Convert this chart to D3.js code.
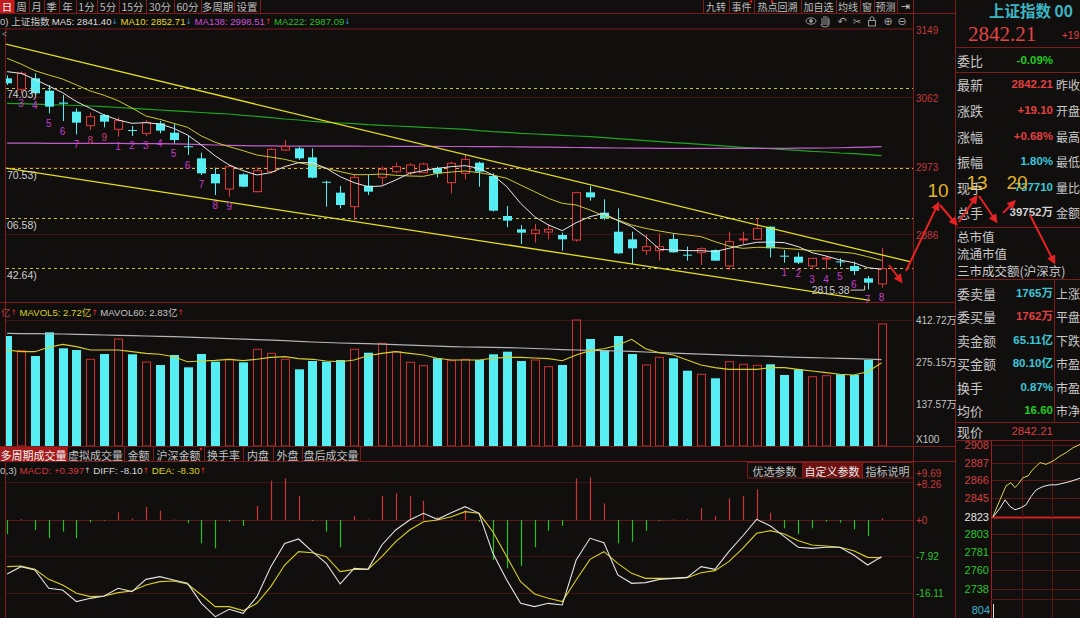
<!DOCTYPE html>
<html><head><meta charset="utf-8"><title>上证指数</title>
<script src="https://cdn.jsdelivr.net/npm/d3@7/dist/d3.min.js"></script>
<style>html,body{margin:0;padding:0;background:#110e0e;overflow:hidden}svg{display:block}</style>
</head><body><svg id="c" width="1080" height="618"></svg>
<script>
// ---------------- DATA ----------------
const opens = [3086.03,3071.93,3086.03,3070.23,3055.0,3043.32,3025.38,3039.05,3020.69,3019.83,
3015.56,3028.37,3016.41,2999.0,2983.53,2963.46,2944.24,2963.03,2940.82,2966.45,
2994.21,2996.34,2984.81,2953.5,2939.54,2921.60,2948.51,2959.19,2966.45,2965.17,
2965.17,2970.72,2952.35,2964.31,2977.98,2960.90,2909.65,2892.56,2887.44,2889.15,
2885.30,2878.90,2939.97,2913.92,2889.57,2879.75,2865.23,2865.23,2880.18,2860.1,
2862.67,2866.09,2845.59,2879.3,2879.75,2895.98,2858.8,2857.54,2845.59,2855.0,
2851.5,2845.59,2829.78,2822.6];
const highs = [3090.0,3094.57,3092.43,3077.49,3064.67,3047.59,3042.04,3040.33,3036.06,3024.96,
3032.64,3031.36,3028.37,3013.43,2990.79,2971.57,2974.99,2964.31,2972.0,2996.34,
3007.02,2998.48,2996.34,2954.92,2948.08,2962.18,2962.18,2972.85,2977.98,2977.12,
2977.98,2972.85,2979.26,2987.80,2979.26,2964.31,2922.46,2898.12,2899.40,2899.40,
2888.29,2940.82,2948.08,2931.00,2919.47,2889.57,2886.59,2887.44,2887.44,2870.36,
2869.50,2866.94,2889.57,2889.57,2906.66,2896.5,2866.09,2862.67,2855.8,2858.40,
2855.41,2851.14,2832.77,2868.5];
const lows = [3077.5,3066.5,3064.67,3041.18,3031.36,3014.28,3019.83,3023.25,3011.29,3012.15,
3012.15,3015.56,3002.75,2987.80,2962.18,2936.55,2934.42,2946.5,2940.0,2964.31,
2992.93,2981.39,2958.0,2921.60,2919.47,2904.52,2936.55,2949.36,2964.31,2962.18,
2964.8,2959.19,2938.69,2956.62,2947.23,2915.5,2895.13,2873.77,2875.48,2879.75,
2865.23,2876.76,2929.29,2904.52,2861.0,2848.15,2859.68,2852.42,2862.5,2852.42,
2846.87,2852.0,2840.46,2873.77,2878.90,2856.69,2849.86,2848.15,2841.32,2841.32,
2844.73,2834.06,2815.38,2818.0];
const closes = [3079.62,3092.43,3066.81,3049.73,3053.5,3029.23,3036.91,3030.51,3031.79,3018.98,
3029.65,3018.98,3007.02,2998.2,2964.31,2951.50,2972.85,2947.23,2967.73,2995.06,
2998.48,2983.53,2958.76,2952.6,2923.74,2959.19,2940.82,2969.44,2972.85,2974.99,
2976.27,2964.31,2977.12,2982.25,2966.45,2916.48,2903.67,2888.29,2891.71,2892.56,
2879.75,2939.54,2933.56,2906.66,2861.82,2868.22,2870.36,2870.36,2863.10,2859.3,
2867.79,2852.42,2876.76,2880.2,2893.85,2868.22,2858.0,2849.86,2855.41,2855.8,
2850.7,2839.18,2824.23,2842.21];
const ma5 = [3094.57,3092.43,3084.75,3076.20,3067.66,3056.13,3047.59,3039.05,3032.64,3028.37,
3029.23,3027.52,3021.97,3013.43,3000.61,2986.52,2974.99,2967.73,2962.18,2965.17,
2972.85,2977.98,2977.98,2970.72,2960.04,2952.35,2947.23,2948.08,2955.77,2964.31,
2967.73,2970.72,2972.85,2974.14,2970.72,2962.18,2947.23,2925.88,2908.79,2898.12,
2890.86,2901.11,2908.79,2913.06,2903.67,2895.98,2883.17,2866.94,2866.09,2865.23,
2865.23,2863.95,2868.22,2872.49,2875.91,2876.34,2875.48,2870.36,2862.67,2858.40,
2853.27,2849.86,2843.45,2841.40];
const ma10 = [3111.65,3104.39,3095.85,3090.30,3085.17,3077.49,3069.80,3064.25,3057.41,3048.02,
3037.77,3033.50,3028.37,3023.25,3012.15,3004.03,2998.48,2993.35,2987.80,2985.24,
2982.25,2977.98,2974.56,2970.72,2966.45,2962.61,2962.61,2963.46,2961.75,2960.90,
2960.47,2964.3,2966.0,2967.3,2965.17,2962.18,2957.91,2949.36,2940.82,2932.28,
2925.88,2923.74,2917.34,2909.65,2904.52,2898.12,2893.85,2890.43,2887.44,2885.30,
2883.17,2876.76,2871.21,2868.22,2869.50,2869.50,2868.22,2866.94,2865.23,2864.38,
2863.52,2861.82,2857.54,2852.71];
const ma138 = [3003.0,3002.9,3002.9,3002.8,3002.8,3002.7,3002.7,3002.6,3002.6,3002.5,
3002.4,3002.3,3002.1,3001.8,3001.2,3000.6,3000.1,2999.7,2999.5,2999.4,
2999.3,2999.3,2999.2,2999.2,2999.1,2999.1,2999.0,2999.0,2998.9,2998.9,
2998.8,2998.8,2998.7,2998.7,2998.6,2998.5,2998.4,2998.2,2998.0,2997.8,
2997.6,2997.4,2997.2,2997.0,2996.8,2996.6,2996.5,2996.4,2996.3,2996.3,
2996.3,2996.3,2996.3,2996.3,2996.3,2996.4,2996.4,2996.5,2996.6,2996.8,
2997.1,2997.5,2998.0,2998.51];
const ma222 = [3054.00,3053.57,3052.93,3052.29,3051.86,3051.22,3050.58,3049.73,3048.66,3047.59,
3046.53,3045.45,3044.39,3043.32,3042.25,3041.18,3040.33,3038.62,3037.34,3035.63,
3033.92,3032.64,3030.93,3029.65,3028.80,3027.95,3026.66,3025.81,3024.96,3024.10,
3023.25,3022.39,3021.54,3020.69,3018.98,3017.70,3016.84,3015.56,3014.71,3013.85,
3013.00,3012.15,3011.29,3010.01,3008.73,3007.45,3006.16,3004.88,3003.60,3002.75,
3001.47,3000.19,2998.90,2997.62,2996.77,2995.91,2994.63,2993.78,2992.50,2991.64,
2990.36,2989.51,2988.22,2987.09];
const volumes = [360.3,312.2,294.8,372.4,320.0,314.4,284.0,301.3,350.5,300.3,
275.1,265.3,298.1,257.7,301.3,276.2,284.0,274.1,316.7,303.6,
284.0,251.2,278.4,276.2,281.7,316.7,305.6,336.4,308.9,274.1,
263.0,287.3,279.4,284.0,281.7,300.3,308.9,278.4,281.7,259.8,
265.3,412.7,350.5,314.4,360.3,301.3,265.3,290.5,287.3,246.6,
234.8,221.8,276.2,267.6,264.3,267.6,232.6,251.2,227.0,230.3,
234.8,232.6,281.7,399.6];
const mavol5 = [314.4,309.0,309.0,323.2,333.0,325.4,314.4,314.4,314.4,309.0,
303.5,300.3,292.6,276.2,278.4,280.6,283.9,279.5,283.9,290.4,
292.6,286.1,283.9,278.4,276.2,281.7,295.9,303.5,309.0,303.5,
298.1,287.2,281.7,281.7,281.7,287.2,290.4,290.4,288.2,286.1,
279.5,298.1,312.3,318.8,329.7,349.4,318.8,305.7,298.1,281.7,
265.3,256.6,251.1,251.1,251.1,256.6,256.6,251.1,245.7,240.2,
234.8,232.6,243.5,272.0];
const mavol60 = [369.0,368.4,367.9,367.4,366.9,365.8,364.7,363.6,362.5,361.4,
360.3,359.2,358.1,356.5,354.8,353.2,351.6,350.0,348.3,346.7,
345.0,342.9,340.7,339.0,337.4,336.3,335.2,333.6,331.9,330.2,
328.6,327.0,325.4,324.3,323.7,323.2,322.1,321.0,319.4,317.7,
316.0,314.4,313.3,312.3,311.2,310.1,307.9,305.7,304.0,302.4,
300.8,299.2,297.5,295.9,294.8,293.7,292.0,290.4,289.3,288.2,
287.1,286.1,284.5,283.0];
const diffs = [-11.88,-10.27,-11.00,-15.04,-15.40,-17.97,-17.24,-16.72,-15.04,-15.77,
-13.06,-12.47,-13.20,-13.94,-18.34,-21.27,-19.66,-20.54,-16.87,-10.27,
-5.14,-4.18,-6.97,-9.54,-14.08,-10.64,-10.86,-5.50,-2.20,0.0,
1.47,0.15,1.61,2.93,1.47,-7.34,-13.20,-18.34,-19.07,-18.34,
-18.70,-8.80,-4.03,-4.99,-12.10,-13.94,-13.79,-13.06,-12.84,-12.62,
-10.27,-10.86,-6.97,-3.52,0.15,-1.32,-3.67,-6.01,-6.24,-6.01,
-6.01,-7.70,-9.90,-8.10];
const deas = [-10.27,-10.12,-10.86,-13.06,-14.30,-16.14,-16.87,-16.72,-15.99,-15.62,
-14.30,-13.57,-13.42,-14.08,-16.50,-19.07,-19.07,-19.95,-18.34,-14.67,
-9.90,-6.97,-7.19,-8.07,-11.37,-10.86,-10.86,-8.07,-4.77,-2.20,
-0.37,0.0,0.73,1.83,1.47,-2.57,-8.07,-13.57,-16.28,-17.24,
-17.97,-13.20,-8.66,-6.97,-9.54,-11.74,-12.84,-12.84,-12.84,-12.69,
-11.59,-11.15,-9.17,-6.24,-2.93,-2.35,-3.08,-4.55,-5.50,-5.72,
-6.01,-6.75,-8.22,-8.30];
const macdHist = [-3.08,0.2,-2.2,-4.0,-2.57,-4.0,-0.5,-0.15,1.69,0.3,
2.93,2.05,0.1,-0.7,-5.13,-6.23,-0.37,-1.32,3.08,8.65,
9.17,5.28,-0.2,-2.57,-6.01,0.88,0.1,5.28,5.87,5.28,
4.25,0.73,0.2,2.2,-0.4,-8.8,-10.6,-10.1,-6.0,-2.35,
-1.32,9.17,9.39,3.67,-5.13,-4.77,-2.35,-0.2,0.15,0.15,
2.57,0.88,4.77,5.28,6.75,1.61,-1.83,-3.08,-1.83,-0.37,
-0.59,-2.05,-3.52,0.397];
// nine-turn count labels
const tdIndex = [1,2,3,4,5,6,7,8,9,10,11,12,13,14,15,16,56,57,58,59,60,61,62,63];
const tdLabel = ['3','4','5','6','7','8','9','1','2','3','4','5','6','7','8','9','1','2','3','4','5','6','7','8'];
// horizontal dotted levels and trend lines (index, price)
const levels = [3074.03,2970.53,2906.58,2842.64];
const upperTrend = [[-0.5,3131.7],[65.05,2851.1]];
const lowerTrend = [[-0.5,2972.05],[62.17,2801.5]];
const lowLabel = 2815.38;
// axis ticks
const priceTicks = [3149,3062,2973,2886];
const volTicks = [412.72,275.15,137.57];
const macdTicks = [9.69,8.26,0,-7.92,-16.11];
const macdGrid = [8.26,0,-7.92,-16.11];
// header values
const maNames = ['MA5','MA10','MA138','MA222'];
const maLast = ['2841.40','2852.71','2998.51','2987.09'];
const maArrow = ['↓','↓','↑','↓'];
// right quote panel
const quoteRows1 = [['最新','2842.21','昨收'],['涨跌','+19.10','开盘'],['涨幅','+0.68%','最高'],['振幅','1.80%','最低'],['现手','737710','量比'],['总手','39752万','金额']];
const quoteRows2 = [['委卖量','1765万','上涨'],['委买量','1762万','平盘'],['卖金额','65.11亿','下跌'],['买金额','80.10亿','市盈'],['换手','0.87%','市盈'],['均价','16.60','市净']];
const marketRows = ['总市值','流通市值','三市成交额(沪深京)'];
// intraday mini chart
const miniTicks = [2908,2887,2866,2845,2823,2803,2781,2760,2738];
const miniPrevClose = 2823;
const miniTY = [0,7,13,18,22,25,30,35,40,47,53,60,67,73,80,87];
const miniYellow = [2823.4,2843.0,2859.5,2863.4,2857.5,2861.4,2869.3,2871.3,2879.2,2887.1,2885.1,2889.0,2894.9,2898.9,2904.8,2908.7];
const miniTW = [0,7,12,17,22,27,33,38,43,50,57,63,70,77,87];
const miniWhite = [2822.6,2833.2,2843.0,2835.2,2831.3,2833.2,2837.1,2846.9,2854.8,2858.8,2860.8,2860.8,2862.7,2864.7,2868.6];
const annotNums = ['10','13','20'];

// ---------------- DRAW ----------------
const W=1080,H=618;
const C={bg:'#110e0e',border:'#7e1b1b',grid:'#3e1414',red:'#e03a3a',cyan:'#56eef2',green:'#22c422',yel:'#d6cf2a',gray:'#c4c4c4',white:'#e4e4e4',mag:'#c43ccc',trend:'#e4e01c',dot:'#c9bf38'};
const FN='"Noto Sans CJK SC","Noto Sans",sans-serif';
const FL='"Liberation Sans",Arial,"Noto Sans CJK SC",sans-serif';
const FA='"DejaVu Sans",sans-serif';
const svg=d3.select('#c');
svg.append('rect').attr('width',W).attr('height',H).attr('fill',C.bg);
const defs=svg.append('defs');
function clipRect(id,x,y,w,h){defs.append('clipPath').attr('id',id).append('rect').attr('x',x).attr('y',y).attr('width',w).attr('height',h);}
clipRect('cMain',6,29,907,273);
clipRect('cVol',6,303,907,143);
clipRect('cMacd',6,476,907,142);
clipRect('cMini',992,441,88,177);
defs.append('marker').attr('id','ah').attr('viewBox','0 0 10 10').attr('refX',7).attr('refY',5)
  .attr('markerWidth',4.5).attr('markerHeight',4.5).attr('orient','auto')
  .append('path').attr('d','M0,0L10,5L0,10Z').attr('fill','#e52222');

function T(g,x,y,s,o={}){
  const t=g.append('text').attr('x',x).attr('y',y).text(s)
    .attr('fill',o.fill||C.gray).attr('font-size',o.size||12)
    .attr('font-family',o.family||FN).attr('text-anchor',o.anchor||'start')
    .attr('dominant-baseline','central');
  if(o.weight) t.attr('font-weight',o.weight);
  return t;
}
function TS(g,x,y,parts,size){
  const t=g.append('text').attr('x',x).attr('y',y).attr('font-size',size).attr('dominant-baseline','central');
  parts.forEach(p=>{const s=t.append('tspan').text(p[0]).attr('fill',p[1]).attr('font-family',p[2]||FL); if(p[3]) s.attr('font-size',p[3]);});
  return t;
}
function L(g,x1,y1,x2,y2,c,w){return g.append('line').attr('x1',x1).attr('y1',y1).attr('x2',x2).attr('y2',y2).attr('stroke',c).attr('stroke-width',w||1);}

const n=closes.length;
const xs=d3.scaleLinear().domain([0,n-1]).range([7.1,881.5]);
const yP=d3.scaleLinear().domain([2842.64,3074.03]).range([268.3,87.7]);
const yV=d3.scaleLinear().domain([0,412.72]).range([446,320]);
const yM=d3.scaleLinear().domain([-16.11,0]).range([593.2,520]);
const up=i=>closes[i]>=opens[i];
const cx=i=>Math.round(xs(i));

// ---- frame lines
const fr=svg.append('g');
L(fr,0,13.5,955,13.5,C.border);
L(fr,0,28.5,913,28.5,'#4a1414');
L(fr,0,302.5,955,302.5,C.border);
L(fr,0,446.5,955,446.5,C.border);
L(fr,0,461.5,955,461.5,C.border);
L(fr,5.5,28,5.5,618,C.border);
L(fr,913.5,13,913.5,618,C.border);
L(fr,955.5,0,955.5,618,C.border);

// ---- top tab bar
const tabs=['日','周','月','季','年','1分','5分','15分','30分','60分','多周期','设置'];
const tabEdges=[0,14,29,44,59,76,97,119,146,174,201,234,260];
const tb=svg.append('g');
tb.append('rect').attr('x',0).attr('y',0).attr('width',14).attr('height',13).attr('fill','#c41c1c');
tabs.forEach((s,i)=>{
  T(tb,(tabEdges[i]+tabEdges[i+1])/2,6.5,s,{anchor:'middle',size:10.5,fill:i===0?'#ffffff':'#bdbdbd'});
  L(tb,tabEdges[i+1]+0.5,0,tabEdges[i+1]+0.5,13,C.border);
});
const tools=['九转','事件','热点回溯','加自选','均线','窗','预测'];
const toolEdges=[703,729,754,801,836,860,874,897];
tools.forEach((s,i)=>{
  T(tb,(toolEdges[i]+toolEdges[i+1])/2,6.5,s,{anchor:'middle',size:10,fill:'#bdbdbd'});
  L(tb,toolEdges[i]+0.5,0,toolEdges[i]+0.5,13,C.border);
});
L(tb,897.5,0,897.5,13,C.border);
T(tb,905,6.5,'⇥',{anchor:'middle',size:11,fill:'#c8c8c8',family:FA});
L(tb,913.5,0,913.5,13,C.border);
tb.append('circle').attr('cx',751).attr('cy',1.5).attr('r',1.3).attr('fill','#e02020');
tb.append('circle').attr('cx',772).attr('cy',1.5).attr('r',1.3).attr('fill','#e02020');

// icons row
const ic=svg.append('g').attr('stroke','#9a9a9a').attr('fill','none').attr('stroke-width',1);
ic.append('ellipse').attr('cx',811).attr('cy',21).attr('rx',5).attr('ry',3.2);
ic.append('circle').attr('cx',811).attr('cy',21).attr('r',1.4).attr('fill','#9a9a9a');
ic.append('path').attr('d','M822,25 L822,18 M824,25 L824,16 M826,25 L826,16 M828,25 L828,17 M821,24 Q821,27 825,27 Q829,27 829,24 L829,19');
T(svg,842,21,'↶',{anchor:'middle',size:11,fill:'#a0a0a0',family:FA});
T(svg,857,21,'✂',{anchor:'middle',size:10,fill:'#a0a0a0',family:FA});
ic.append('rect').attr('x',868.5).attr('y',20.5).attr('width',7).attr('height',5.5);
ic.append('path').attr('d','M870,20.5 L870,18 Q872,15 874,18 L874,20.5');
T(svg,888,21,'⊕',{anchor:'middle',size:11,fill:'#a0a0a0',family:FA});
T(svg,902,21,'⊖',{anchor:'middle',size:11,fill:'#a0a0a0',family:FA});

// ---- MA header (one line)
const maCol=['#dedede','#e2da26','#cf4fdc','#2cbf2c'];
const maParts=[['0) ','#c4c4c4'],['上证指数 ','#c8c8c8',FN]];
maNames.forEach((m,i)=>{
  maParts.push([m+': '+maLast[i],maCol[i]]);
  maParts.push([maArrow[i],maArrow[i]==='↑'?'#e03030':'#3a9ac8',FA,7.5]);
  maParts.push([' ','#c4c4c4']);
});
TS(svg,0,21,maParts,9.6);
T(svg,2,34,'<',{size:9,fill:'#888',family:FL});

// ---- main pane
const gm=svg.append('g').attr('clip-path','url(#cMain)');
priceTicks.forEach(v=>L(gm,6,Math.round(yP(v))+0.5,913,Math.round(yP(v))+0.5,C.grid));
levels.forEach(v=>L(gm,6,Math.round(yP(v))+0.5,913,Math.round(yP(v))+0.5,C.dot).attr('stroke-dasharray','3,3'));
const lineP=d3.line().x((d,i)=>xs(i)).y(d=>yP(d));
gm.append('path').datum(ma222).attr('d',lineP).attr('fill','none').attr('stroke','#1fa51f').attr('stroke-width',1.2);
gm.append('path').datum(ma138).attr('d',lineP).attr('fill','none').attr('stroke','#c060cc').attr('stroke-width',1.2);
const idx=d3.range(n);
gm.selectAll('line.wick').data(idx).join('line').attr('class','wick')
  .attr('x1',i=>cx(i)+0.5).attr('x2',i=>cx(i)+0.5)
  .attr('y1',i=>yP(highs[i])).attr('y2',i=>yP(lows[i]))
  .attr('stroke',i=>up(i)?C.red:C.cyan).attr('stroke-width',1);
gm.selectAll('rect.body').data(idx).join('rect').attr('class','body')
  .attr('x',i=>up(i)?cx(i)-3.5:cx(i)-4)
  .attr('width',i=>up(i)?8:9)
  .attr('y',i=>yP(Math.max(opens[i],closes[i])))
  .attr('height',i=>Math.max(1,yP(Math.min(opens[i],closes[i]))-yP(Math.max(opens[i],closes[i]))))
  .attr('fill',i=>up(i)?C.bg:C.cyan)
  .attr('stroke',i=>up(i)?C.red:'none').attr('stroke-width',1);
gm.append('path').datum(ma10).attr('d',lineP).attr('fill','none').attr('stroke','#cfc82a').attr('stroke-width',1);
gm.append('path').datum(ma5).attr('d',lineP).attr('fill','none').attr('stroke','#e6e6e6').attr('stroke-width',1);
const lineT=d3.line().x(d=>xs(d[0])).y(d=>yP(d[1]));
gm.append('path').datum(upperTrend).attr('d',lineT).attr('stroke',C.trend).attr('stroke-width',1.3).attr('fill','none');
gm.append('path').datum(lowerTrend).attr('d',lineT).attr('stroke',C.trend).attr('stroke-width',1.3).attr('fill','none');
svg.append('g').selectAll('text').data(tdIndex).join('text')
  .attr('x',i=>xs(i)).attr('y',i=>yP(lows[i])+10).text((i,k)=>tdLabel[k])
  .attr('text-anchor','middle').attr('dominant-baseline','central')
  .attr('font-size',10).attr('font-family',FL).attr('fill',(i,k)=>(k===5||k===6)?'#c8407a':C.mag);
levels.forEach(v=>T(svg,7,yP(v)+6.5,(v.toFixed(2)+')').slice(-6),{size:10.5,fill:'#cfcfcf',family:FL}));
const li=lows.indexOf(lowLabel);
T(svg,xs(li)-18,yP(lowLabel),lowLabel.toFixed(2),{anchor:'end',size:10.5,fill:'#c8c8c8',family:FL});
L(svg,xs(li)-17,yP(lowLabel)+0.5,xs(li)-3,yP(lowLabel)+0.5,'#c8c8c8');
L(svg,xs(li)-3,yP(lowLabel)+0.5,xs(li)-3,yP(lowLabel)-4,'#c8c8c8');
const axP=svg.append('g').attr('transform','translate(915,1)')
  .call(d3.axisRight(yP).tickValues(priceTicks).tickSize(0).tickPadding(1).tickFormat(d3.format('d')));
axP.select('.domain').remove();
axP.selectAll('text').attr('fill','#c23a3a').attr('font-size',10).attr('font-family',FL);

// ---- volume pane
const gv=svg.append('g').attr('clip-path','url(#cVol)');
L(gv,6,Math.round(yV(volTicks[0]))+0.5,913,Math.round(yV(volTicks[0]))+0.5,C.grid);
gv.selectAll('rect.vb').data(idx).join('rect').attr('class','vb')
  .attr('x',i=>up(i)?cx(i)-3.5:cx(i)-4).attr('width',i=>up(i)?8:9)
  .attr('y',i=>yV(volumes[i])).attr('height',i=>yV(0)-yV(volumes[i]))
  .attr('fill',i=>up(i)?'none':C.cyan).attr('stroke',i=>up(i)?'#cc3030':'none');
const lineV=d3.line().x((d,i)=>xs(i)).y(d=>yV(d));
gv.append('path').datum(mavol60).attr('d',lineV).attr('fill','none').attr('stroke','#b4b4b4').attr('stroke-width',1.2);
gv.append('path').datum(mavol5).attr('d',lineV).attr('fill','none').attr('stroke','#d8cf26').attr('stroke-width',1.1);
TS(svg,1,312,[['亿','#b84040',FN],['↑','#e03030',FA,7.5],[' MAVOL5: 2.72亿','#d8d02a'],['↑','#e03030',FA,7.5],[' MAVOL60: 2.83亿','#c4c4c4'],['↑','#e03030',FA,7.5]],9.6);
const axV=svg.append('g').attr('transform','translate(915,0)')
  .call(d3.axisRight(yV).tickValues(volTicks).tickSize(0).tickPadding(1).tickFormat(d=>d.toFixed(2)+'万'));
axV.select('.domain').remove();
axV.selectAll('text').attr('fill','#c4c4c4').attr('font-size',10).attr('font-family',FL);
T(svg,916,439,'X100',{size:10,fill:'#c4c4c4',family:FL});
const vtabs=['多周期成交量','虚拟成交量','金额','沪深金额','换手率','内盘','外盘','盘后成交量'];
const vEdges=[0,67,124,153,204,243,273,302,360];
svg.append('rect').attr('x',0).attr('y',447).attr('width',67).attr('height',14).attr('fill','#a51a1a');
vtabs.forEach((s,i)=>{
  T(svg,(vEdges[i]+vEdges[i+1])/2,454.5,s,{anchor:'middle',size:11,fill:i===0?'#f2f2f2':'#c0c0c0'});
  L(svg,vEdges[i+1]+0.5,447,vEdges[i+1]+0.5,461,C.border);
});
svg.append('circle').attr('cx',201).attr('cy',449).attr('r',1.3).attr('fill','#e02020');

// ---- MACD pane
TS(svg,0,470,[['0,3) ','#c4c4c4'],['MACD: +0.397','#d23a3a'],['↑','#d0d0d0',FA,7.5],[' DIFF: -8.10','#d6d6d6'],['↑','#e03030',FA,7.5],[' DEA: -8.30','#d8d02a'],['↑','#e03030',FA,7.5]],9.8);
const btn=['优选参数','自定义参数','指标说明'], bE=[747,802,862,913];
svg.append('rect').attr('x',802).attr('y',462).attr('width',60).attr('height',16).attr('fill','#6e1212');
btn.forEach((s,i)=>{
  svg.append('rect').attr('x',bE[i]+0.5).attr('y',462.5).attr('width',bE[i+1]-bE[i]).attr('height',15.5).attr('fill','none').attr('stroke',C.border);
  T(svg,(bE[i]+bE[i+1])/2,470.5,s,{anchor:'middle',size:11,fill:i===1?'#e8e8e8':'#c0c0c0'});
});
const gM=svg.append('g').attr('clip-path','url(#cMacd)');
macdGrid.forEach(v=>L(gM,6,Math.round(yM(v))+0.5,913,Math.round(yM(v))+0.5,v===0?'#5e1818':C.grid));
gM.selectAll('line.hist').data(idx).join('line').attr('class','hist')
  .attr('x1',i=>cx(i)+0.5).attr('x2',i=>cx(i)+0.5)
  .attr('y1',yM(0)).attr('y2',i=>yM(macdHist[i]))
  .attr('stroke',i=>macdHist[i]>=0?'#d03434':'#22c422').attr('stroke-width',1.2);
const lineM=d3.line().x((d,i)=>xs(i)).y(d=>yM(d));
gM.append('path').datum(deas).attr('d',lineM).attr('fill','none').attr('stroke','#d8d022').attr('stroke-width',1.1);
gM.append('path').datum(diffs).attr('d',lineM).attr('fill','none').attr('stroke','#e2e2e2').attr('stroke-width',1.1);
const axM=svg.append('g').attr('transform','translate(915,0)')
  .call(d3.axisRight(yM).tickValues(macdTicks).tickSize(0).tickPadding(1).tickFormat(d=>(d>=0?'+':'')+d));
axM.select('.domain').remove();
axM.selectAll('text').attr('font-size',10).attr('font-family',FL).attr('fill',d=>d>=0?'#c83a3a':'#2cc42c')
  .attr('dy',d=>d===9.69?'0.1em':(d===8.26?'0.55em':'0.32em'));

// ---- right quote panel
const rp=svg.append('g');
T(rp,989,10,'上证指数 00',{size:15.5,fill:'#3cb6c2',weight:700});
T(rp,968,34,'2842.21',{size:21,fill:'#e04444',family:'"Liberation Serif",serif'});
T(rp,1062,35,'+19',{size:10,fill:'#e04444',family:FL});
[47,72,227,279,422,440].forEach(y=>L(rp,955,y+0.5,1080,y+0.5,C.border));
L(rp,1054.5,279,1054.5,422,C.border);
T(rp,957,60,'委比',{size:13,fill:'#c8c8c8'});
T(rp,1053,60,'-0.09%',{anchor:'end',size:11.5,fill:'#22cc22',family:FL,weight:700});
const vc1=['#e04040','#e04040','#e04040','#38c8d8','#38c8d8','#d0d0d0'];
const ry1=[84,110,136,161,187,212];
quoteRows1.forEach((r,i)=>{
  T(rp,957,ry1[i],r[0],{size:13,fill:'#c8c8c8'});
  T(rp,1053,ry1[i],r[1],{anchor:'end',size:11.5,fill:vc1[i],family:FL,weight:700});
  T(rp,1056,ry1[i],r[2],{size:12,fill:'#c8c8c8'});
});
const ry2=[236,253,270];
marketRows.forEach((s,i)=>T(rp,957,ry2[i],s,{size:12.5,fill:'#c8c8c8'}));
const vc2=['#38c8d8','#e04040','#38c8d8','#38c8d8','#38c8d8','#22cc22'];
const ry3=[293,316,340,363,387,410];
quoteRows2.forEach((r,i)=>{
  T(rp,957,ry3[i],r[0],{size:13,fill:'#c8c8c8'});
  T(rp,1053,ry3[i],r[1],{anchor:'end',size:11.5,fill:vc2[i],family:FL,weight:700});
  T(rp,1056,ry3[i],r[2],{size:12,fill:'#c8c8c8'});
});
T(rp,957,431,'现价',{size:13,fill:'#c8c8c8'});
T(rp,1053,431,'2842.21',{anchor:'end',size:11.5,fill:'#d84040',family:FL});

// ---- intraday mini chart
const yMini=d3.scaleLinear().domain([2738,2908]).range([588.5,445]);
const xMini=d3.scaleLinear().domain([0,87]).range([993,1080]);
const gmi=svg.append('g');
miniTicks.forEach(v=>{
  const y=Math.round(yMini(v))+0.5;
  if(v===miniPrevClose) L(gmi,991,y,1080,y,'#d02020',2);
  else L(gmi,991,y,1080,y,'#5c1616');
});
L(gmi,991.5,441,991.5,618,'#a02020');
L(gmi,1022.5,441,1022.5,618,'#5c1616');
L(gmi,1052.5,441,1052.5,618,'#5c1616');
L(gmi,991,599.5,1080,599.5,'#5c1616');
const axMi=svg.append('g').attr('transform','translate(990,0)')
  .call(d3.axisLeft(yMini).tickValues(miniTicks).tickSize(0).tickPadding(1).tickFormat(d3.format('d')));
axMi.select('.domain').remove();
axMi.selectAll('text').attr('font-size',11).attr('font-family',FL)
  .attr('fill',d=>d>miniPrevClose?'#d04040':(d===miniPrevClose?'#e6e6e6':'#2cc42c'));
T(svg,990,610,'804',{anchor:'end',size:11,fill:'#38b8d0',family:FL});
L(svg,993.5,604,993.5,618,'#e0e0e0');
const gml=svg.append('g').attr('clip-path','url(#cMini)');
gml.append('path').datum(miniTY.map((t,i)=>[t,miniYellow[i]])).attr('d',d3.line().x(d=>xMini(d[0])).y(d=>yMini(d[1])))
  .attr('fill','none').attr('stroke','#e2d44a').attr('stroke-width',1);
gml.append('path').datum(miniTW.map((t,i)=>[t,miniWhite[i]])).attr('d',d3.line().x(d=>xMini(d[0])).y(d=>yMini(d[1])))
  .attr('fill','none').attr('stroke','#ececec').attr('stroke-width',1);

// ---- hand-drawn annotation overlay
const an=svg.append('g');
const arrows=[[906,271,938,204],[940,205,956,224],[959,222,976,197],[979,196,996,221],[1003,213,1014,202],[1030,215,1054,262],[889,265,901,281]];
arrows.forEach(a=>an.append('line').attr('x1',a[0]).attr('y1',a[1]).attr('x2',a[2]).attr('y2',a[3])
  .attr('stroke','#e52222').attr('stroke-width',2).attr('marker-end','url(#ah)'));
const numPos=[[938,190],[977,182],[1017,182]];
annotNums.forEach((s,i)=>T(an,numPos[i][0],numPos[i][1],s,{anchor:'middle',size:19,fill:'#e2b424',family:FL}));
</script></body></html>
